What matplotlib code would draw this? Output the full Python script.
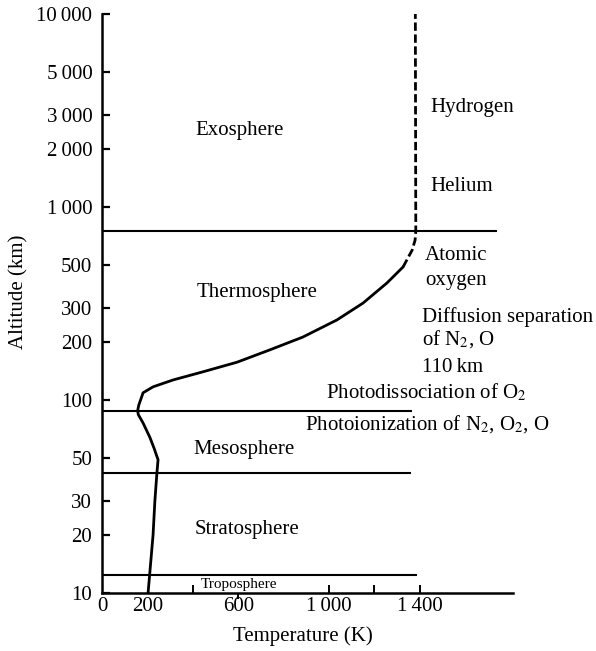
import numpy as np
import matplotlib.pyplot as plt
from matplotlib.lines import TICKDOWN

plt.rcParams['font.family'] = ['Liberation Serif', 'DejaVu Serif']
plt.rcParams['mathtext.fontset'] = 'stix'

# Temperature profile (K) vs altitude (km), solid part
T_solid = [203, 225, 233, 242, 247, 230, 211, 181, 160, 157, 162, 170, 181,
           225, 313, 445, 595, 740, 885, 1035, 1150, 1255, 1326]
alt_solid = [10, 20, 30, 42, 49, 56, 64, 76, 84, 88, 94, 100, 109,
             117, 127, 140, 157, 182, 212, 260, 318, 404, 489]

# upper, uncertain part (dashed)
T_dash = [1326, 1366, 1379, 1382, 1380]
alt_dash = [489, 598, 674, 750, 10000]

# layer boundaries (km) and where each line stops (K)
bound_alt = [12.4, 42, 88, 750]
bound_end = [1387, 1361, 1366, 1740]

y_ticks = [10, 20, 30, 50, 100, 200, 300, 500, 1000, 2000, 3000, 5000, 10000]
y_labels = ['10', '20', '30', '50', '100', '200', '300', '500',
            '1\u2009000', '2\u2009000', '3\u2009000', '5\u2009000', '10\u2009000']
x_ticks = [0, 200, 600, 1000, 1400]
x_labels = ['0', '200', '600', '1\u2009000', '1\u2009400']
x_minor = [400, 1200]

# (text, T, altitude, size)
labels = [
    ('Exosphere', 410, 2360, 15),
    ('Thermosphere', 418, 342, 15),
    ('Mesosphere', 401, 52.5, 15),
    ('Stratosphere', 410, 20.2, 15),
    ('Troposphere', 436, 10.6, 11),
    ('Hydrogen', 1445, 3100, 15),
    ('Helium', 1445, 1210, 15),
    ('Atomic', 1423, 531, 15),
    ('oxygen', 1423, 394, 15),
    ('Diffusion separation', 1410, 254, 15),
    ('of N$_2$, O', 1410, 193, 15),
    ('110\u2009km', 1410, 140, 15),
    ('Photodissociation of O$_2$', 987, 102, 15),
    ('Photoionization of N$_2$, O$_2$, O', 894, 70, 15),
]

fig = plt.figure(figsize=(5.96, 6.51), dpi=100)
ax = fig.add_axes([0.1711, 0.0891, 0.6896, 0.8894])

ax.plot(T_solid, alt_solid, color='black', lw=2.0, solid_capstyle='round')
ax.plot(T_dash, alt_dash, color='black', lw=2.0, dashes=(3, 1.3))
ax.hlines(bound_alt, 0, bound_end, color='black', lw=1.5)

for txt, t, a, s in labels:
    ax.text(t, a, txt, fontsize=s, ha='left', va='baseline')

ax.set_yscale('log')
ax.set_ylim(10, 10000)
ax.set_xlim(0, 1810)
ax.set_yticks(y_ticks)
ax.set_yticklabels(y_labels)
ax.yaxis.set_minor_locator(plt.NullLocator())
ax.set_xticks(x_ticks)
ax.set_xticklabels(x_labels)
ax.set_xticks(x_minor, minor=True)

for side in ['top', 'right']:
    ax.spines[side].set_visible(False)
for side in ['left', 'bottom']:
    ax.spines[side].set_linewidth(1.8)

ax.tick_params(axis='y', direction='in', length=6, width=1.6, labelsize=15, pad=7)
ax.tick_params(axis='x', which='major', direction='in', length=6, width=1.4,
               labelsize=15, pad=3)
ax.tick_params(axis='x', which='minor', direction='in', length=6, width=1.4)

# no marks at 0 and 200, the 600 mark points down
xt = ax.xaxis.get_major_ticks()
xt[0].tick1line.set_visible(False)
xt[1].tick1line.set_visible(False)
xt[2].tick1line.set_marker(TICKDOWN)
xt[2].tick1line.set_markersize(4)

ax.set_ylabel('Altitude (km)', fontsize=15)
ax.yaxis.set_label_coords(-0.180, 0.52)
ax.set_xlabel('Temperature (K)', fontsize=15)
ax.xaxis.set_label_coords(0.49, -0.058)

fig.savefig('out.png', dpi=100)
